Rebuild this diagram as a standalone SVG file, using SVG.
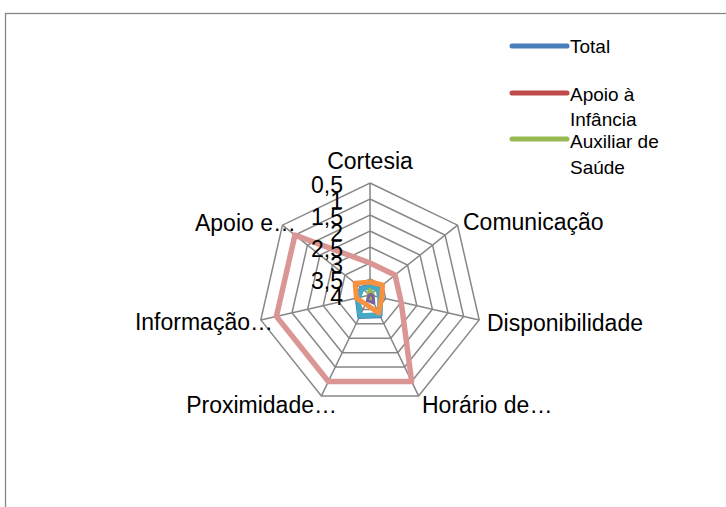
<svg xmlns="http://www.w3.org/2000/svg" width="726" height="507" viewBox="0 0 726 507">
<style>
text{font-family:"Liberation Sans",Arial,sans-serif;fill:#000}
.ax{font-size:23px}
.lg{font-size:19px}
.grid{fill:none;stroke:#878787;stroke-width:1.5}
.s{fill:none;stroke-linejoin:round;stroke-linecap:round}
.leg{stroke-width:5;stroke-linecap:round}
</style>
<rect x="5.5" y="13.5" width="740" height="510" fill="#fff" stroke="#878787" stroke-width="1.3"/>
<g id="grid">
<polygon class="grid" points="370,279 382.51,285.02 385.6,298.56 376.94,309.42 363.06,309.42 354.4,298.56 357.49,285.02"/>
<polygon class="grid" points="370,263 395.02,275.05 401.2,302.12 383.88,323.83 356.12,323.83 338.8,302.12 344.98,275.05"/>
<polygon class="grid" points="370,247 407.53,265.07 416.8,305.68 390.83,338.25 349.17,338.25 323.2,305.68 332.47,265.07"/>
<polygon class="grid" points="370,231 420.04,255.1 432.4,309.24 397.77,352.66 342.23,352.66 307.6,309.24 319.96,255.1"/>
<polygon class="grid" points="370,215 432.55,245.12 447.99,312.8 404.71,367.08 335.29,367.08 292.01,312.8 307.45,245.12"/>
<polygon class="grid" points="370,199 445.06,235.14 463.59,316.36 411.65,381.49 328.35,381.49 276.41,316.36 294.94,235.14"/>
<polygon class="grid" points="370,183 457.56,225.17 479.19,319.92 418.59,395.91 321.41,395.91 260.81,319.92 282.44,225.17"/>
<path class="grid" d="M370,295L370,183M370,295L457.56,225.17M370,295L479.19,319.92M370,295L418.59,395.91M370,295L321.41,395.91M370,295L260.81,319.92M370,295L282.44,225.17"/>
</g>
<g id="connectors">
<polygon id="s-total" class="s" stroke="#4A7EBB" stroke-width="5" points="370,286 378.6,288.14 380.72,297.45 379.98,315.72 359.59,316.62 357.33,297.89 361.4,288.14"/>
<polygon id="s-apoio" class="s" stroke="#BE4B48" stroke-width="4" points="370,294 370.78,294.38 370.97,295.22 370.87,296.8 369.13,296.8 369.03,295.22 369.22,294.38"/>
<polygon id="s-aqua" class="s" stroke="#46AAC5" stroke-width="5" points="370,287 377.82,288.77 379.75,297.23 379.55,314.82 360.02,315.72 358.3,297.67 362.18,288.77"/>
<polygon id="s-orange" class="s" stroke="#F69240" stroke-width="5" points="370,282 382.51,285.02 381.7,297.67 378.68,313.02 365.66,304.01 356.35,298.12 355.15,283.15"/>
<polygon id="s-aux" class="s" stroke="#98B954" stroke-width="4" points="370,290 372.35,293.13 372.92,295.67 373.04,301.31 368.7,297.7 369.03,295.22 368.44,293.75"/>
<polygon id="s-purple" class="s" stroke="#7D60A0" stroke-width="3" points="370,295 370.78,294.38 372.92,295.67 373.9,303.11 367.4,300.41 369.03,295.22"/>
<polygon id="s-pink" class="s" stroke="#D99694" stroke-width="5.5" points="370,263 395.02,275.05 401.2,302.12 411.65,381.49 328.35,381.49 276.41,316.36 294.94,235.14"/>
</g>
<g id="ticks" class="ax" text-anchor="end">
<text x="343" y="193">0,5</text>
<text x="343" y="209">1</text>
<text x="343" y="225">1,5</text>
<text x="343" y="241">2</text>
<text x="343" y="257">2,5</text>
<text x="343" y="273">3</text>
<text x="343" y="289">3,5</text>
<text x="343" y="305">4</text>
</g>
<g id="cat-cortesia"><text class="ax" x="370" y="169" text-anchor="middle">Cortesia</text></g>
<g id="cat-comunicacao"><text class="ax" x="463" y="230">Comunicação</text></g>
<g id="cat-disponibilidade"><text class="ax" x="487" y="331">Disponibilidade</text></g>
<g id="cat-horario"><text class="ax" x="422" y="413">Horário de…</text></g>
<g id="cat-proximidade"><text class="ax" x="337" y="413" text-anchor="end">Proximidade…</text></g>
<g id="cat-informacao"><text class="ax" x="273" y="330" text-anchor="end">Informação…</text></g>
<g id="cat-apoio"><text class="ax" x="296" y="231" text-anchor="end">Apoio e…</text></g>
<g id="legend">
<g id="leg-total"><line class="leg" x1="512" y1="46" x2="567" y2="46" stroke="#4A7EBB"/><text class="lg" x="570" y="53">Total</text></g>
<g id="leg-apoio"><line class="leg" x1="512" y1="93" x2="567" y2="93" stroke="#BE4B48"/><text class="lg" x="570" y="101">Apoio à</text><text class="lg" x="570" y="126">Infância</text></g>
<g id="leg-aux"><line class="leg" x1="512" y1="139" x2="567" y2="139" stroke="#98B954"/><text class="lg" x="570" y="148">Auxiliar de</text><text class="lg" x="570" y="174">Saúde</text></g>
</g>
</svg>
